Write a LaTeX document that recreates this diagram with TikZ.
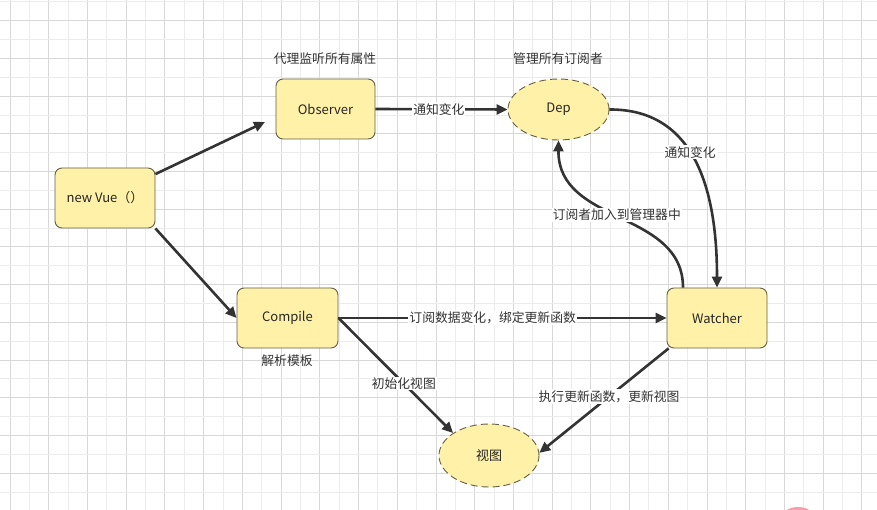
\documentclass[tikz,border=0pt]{standalone}
\usepackage{fontspec}
\setmainfont{Noto Sans CJK SC}
\usetikzlibrary{arrows.meta,shapes.geometric,calc}
\definecolor{boxfill}{RGB}{255,241,168}
\definecolor{boxline}{RGB}{100,96,70}
\definecolor{ink}{RGB}{51,51,51}
\definecolor{gridA}{RGB}{216,216,216}
\definecolor{gridB}{RGB}{236,236,236}
\definecolor{blob}{RGB}{245,160,168}
\begin{document}
\begin{tikzpicture}[x=1pt,y=-1pt,
  box/.style={draw=boxline,fill=boxfill,line width=0.9pt,rounded corners=7pt,
    minimum width=100pt,minimum height=60pt,inner sep=0pt,
    font=\fontsize{13}{15}\selectfont,text=black!85},
  oval/.style={ellipse,draw=boxline,fill=boxfill,line width=0.9pt,
    dash pattern=on 7pt off 4pt,minimum width=100pt,minimum height=62pt,
    inner sep=0pt,font=\fontsize{13}{15}\selectfont,text=black!85},
  arr/.style={draw=ink,line width=2.6pt,-{Triangle[length=11pt,width=10pt]}},
  lbl/.style={fill=white,inner sep=1pt,font=\fontsize{12.8}{15}\selectfont,text=ink},
  note/.style={inner sep=0pt,font=\fontsize{12.8}{15}\selectfont,text=ink}]
\useasboundingbox (0,0) rectangle (877,510);
\fill[white] (0,0) rectangle (877,510);
% grid
\foreach \k in {0,...,44}{
  \pgfmathsetmacro{\gx}{10+19.36*\k}
  \pgfmathtruncatemacro{\odd}{mod(\k,2)}
  \ifnum\odd=0 \draw[gridA,line width=0.8pt] (\gx,0) -- (\gx,510);
  \else \draw[gridB,line width=0.8pt] (\gx,0) -- (\gx,510); \fi
}
\foreach \k in {0,...,26}{
  \pgfmathsetmacro{\gy}{1.85+18.85*\k}
  \pgfmathtruncatemacro{\odd}{mod(\k,2)}
  \ifnum\odd=1 \draw[gridA,line width=0.8pt] (0,\gy) -- (877,\gy);
  \else \draw[gridB,line width=0.8pt] (0,\gy) -- (877,\gy); \fi
}
\begin{scope}
\clip (0,0) rectangle (877,510);
\fill[blob] (798,516) ellipse [x radius=15pt, y radius=9pt];
\end{scope}
% nodes
\node[box] (vue) at (105,198) {new Vue（）};
\node[box,minimum width=99pt] (obs) at (325.5,109) {Observer};
\node[box,minimum width=101pt] (comp) at (287.5,318) {Compile};
\node[box] (wat) at (717,318) {Watcher};
\node[oval,minimum width=101pt,minimum height=61pt] (dep) at (558.5,109.5) {Dep};
\node[oval,minimum height=63pt] (view) at (489,455.5) {视图};
% notes
\node[note] (n1) at (325,59) {代理监听所有属性};
\node[note] (n2) at (558,59) {管理所有订阅者};
\node[note] (n3) at (287,361) {解析模板};
% connectors
\coordinate (obsIn) at (265,122);
\draw[arr] (vue) -- (obsIn);
\draw[arr] (vue.south east) -- (comp.west);
\draw[arr] (obs.east) -- node[lbl,pos=0.48] {通知变化} (dep.west);
\draw[arr] (dep.east) .. controls (695,109) and (717,190) .. node[lbl,pos=0.45] {通知变化} (wat.north);
\draw[arr] ($(wat.north)+(-34,0)$) .. controls (683,210) and (558,225) .. node[lbl,pos=0.52] {订阅者加入到管理器中} (dep.south);
\draw[arr] (comp.east) -- node[lbl,pos=0.47] {订阅数据变化，绑定更新函数} (wat.west);
\draw[arr] (comp.east) -- node[lbl,pos=0.57] {初始化视图} (view.148);
\draw[arr] ($(wat.south west)+(2,0)$) -- node[lbl,pos=0.46] {执行更新函数，更新视图} (view.3);
\end{tikzpicture}
\end{document}
